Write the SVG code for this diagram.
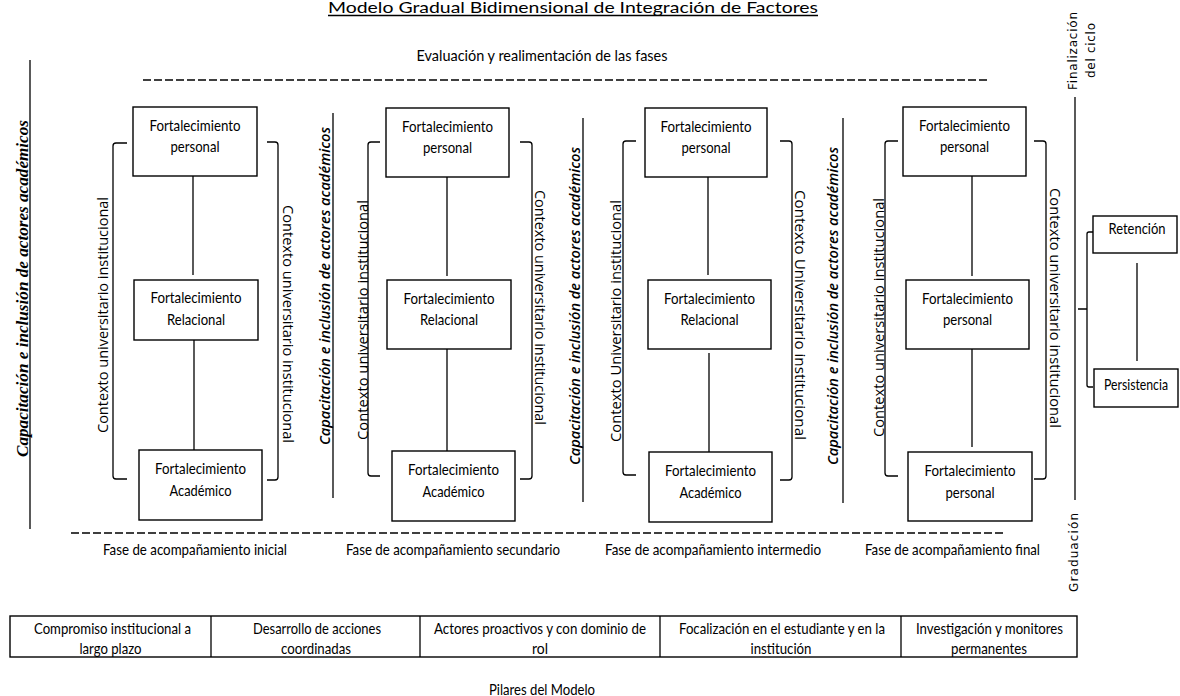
<svg xmlns="http://www.w3.org/2000/svg" width="1180" height="696" viewBox="0 0 1180 696">
<style>
text{fill:#000}
.t{font-family:Lato,"Open Sans",sans-serif;font-size:15px}
.box{fill:#fff;stroke:#000;stroke-width:1.4}
.ln{stroke:#000;stroke-width:1.3;fill:none}
.dash{stroke:#000;stroke-width:1.3;stroke-dasharray:8 3;fill:none}
.ctx{font-family:"Open Sans",sans-serif;font-size:14px}
.cap{font-family:"Open Sans",sans-serif;font-style:italic;font-weight:600;font-size:14px}
.cap1{font-family:"Liberation Serif",serif;font-style:italic;font-weight:bold;font-size:16px}
.side{font-family:"DejaVu Sans",sans-serif;font-size:12px}
.mid{text-anchor:middle;dominant-baseline:central}
</style>
<rect width="1180" height="696" fill="#fff"/>

<g id="title">
<text class="t" x="573" y="13" text-anchor="middle" font-size="14" textLength="490" lengthAdjust="spacingAndGlyphs">Modelo Gradual Bidimensional de Integración de Factores</text>
<line class="ln" x1="328" y1="15.5" x2="818" y2="15.5"/>
</g>

<g id="evaluacion">
<text class="t mid" x="542" y="55" font-size="16" textLength="251" lengthAdjust="spacingAndGlyphs">Evaluación y realimentación de las fases</text>
</g>

<g id="frame">
<line class="dash" x1="143" y1="80" x2="988" y2="80"/>
<line class="dash" x1="71" y1="533" x2="1005" y2="533"/>
<line class="ln" x1="30" y1="60" x2="30" y2="529"/>
<line class="ln" x1="333" y1="113" x2="333" y2="498"/>
<line class="ln" x1="583" y1="118" x2="583" y2="502"/>
<line class="ln" x1="843" y1="118" x2="843" y2="503"/>
<line class="ln" x1="1075" y1="97" x2="1075" y2="500"/>
</g>

<g id="capacitacion">
<text class="cap1 mid" transform="translate(22,288.5) rotate(-90)" textLength="337" lengthAdjust="spacingAndGlyphs">Capacitación e inclusión de actores académicos</text>
<text class="cap mid" transform="translate(324,286) rotate(-90)" textLength="318" lengthAdjust="spacingAndGlyphs">Capacitación e inclusión de actores académicos</text>
<text class="cap mid" transform="translate(574,306) rotate(-90)" textLength="318" lengthAdjust="spacingAndGlyphs">Capacitación e inclusión de actores académicos</text>
<text class="cap mid" transform="translate(832,306) rotate(-90)" textLength="318" lengthAdjust="spacingAndGlyphs">Capacitación e inclusión de actores académicos</text>
</g>

<g id="contexto">
<text class="ctx mid" transform="translate(102,315) rotate(-90)" textLength="236" lengthAdjust="spacingAndGlyphs">Contexto universitario institucional</text>
<text class="ctx mid" transform="translate(288,324) rotate(90)" textLength="238" lengthAdjust="spacingAndGlyphs">Contexto universitario institucional</text>
<text class="ctx mid" transform="translate(362,320) rotate(-90)" textLength="240" lengthAdjust="spacingAndGlyphs">Contexto universitario institucional</text>
<text class="ctx mid" transform="translate(540,307.5) rotate(90)" textLength="235" lengthAdjust="spacingAndGlyphs">Contexto universitario institucional</text>
<text class="ctx mid" transform="translate(615,321) rotate(-90)" textLength="242" lengthAdjust="spacingAndGlyphs">Contexto Universitario institucional</text>
<text class="ctx mid" transform="translate(800,315) rotate(90)" textLength="250" lengthAdjust="spacingAndGlyphs">Contexto Universitario institucional</text>
<text class="ctx mid" transform="translate(878,317.5) rotate(-90)" textLength="239" lengthAdjust="spacingAndGlyphs">Contexto universitario institucional</text>
<text class="ctx mid" transform="translate(1055,308) rotate(90)" textLength="240" lengthAdjust="spacingAndGlyphs">Contexto universitario institucional</text>
</g>

<g id="brackets">
<path class="ln" d="M127,143 H116 Q113,143 113,146 V476 Q113,479 116,479 H127"/>
<path class="ln" d="M267,142 H275 Q278,142 278,145 V477 Q278,480 275,480 H267"/>
<path class="ln" d="M380,142 H371 Q368,142 368,145 V473 Q368,476 371,476 H380"/>
<path class="ln" d="M520,142 H529 Q532,142 532,145 V476 Q532,479 529,479 H520"/>
<path class="ln" d="M636,141 H626 Q623,141 623,144 V472 Q623,475 626,475 H636"/>
<path class="ln" d="M780,141 H789 Q792,141 792,144 V477 Q792,480 789,480 H780"/>
<path class="ln" d="M898,141 H888 Q885,141 885,144 V473 Q885,476 888,476 H898"/>
<path class="ln" d="M1034,141 H1043 Q1046,141 1046,144 V476 Q1046,479 1043,479 H1034"/>
<path class="ln" d="M1093,232 H1089 Q1087,232 1087,234 V385 Q1087,387 1089,387 H1093 M1087,309 H1078"/>
</g>

<g id="connectors">
<line class="ln" x1="193" y1="176" x2="193" y2="275"/>
<line class="ln" x1="194" y1="340" x2="194" y2="450"/>
<line class="ln" x1="447" y1="177" x2="447" y2="276"/>
<line class="ln" x1="447" y1="349" x2="447" y2="451"/>
<line class="ln" x1="708" y1="177" x2="708" y2="275"/>
<line class="ln" x1="709" y1="353" x2="709" y2="452"/>
<line class="ln" x1="972" y1="176" x2="972" y2="276"/>
<line class="ln" x1="972" y1="349" x2="972" y2="447"/>
<line class="ln" x1="1137" y1="263" x2="1137" y2="361"/>
</g>

<g id="c1-personal"><rect class="box" x="133" y="107" width="124" height="69"/>
<text class="t mid" x="195" y="125" textLength="91" lengthAdjust="spacingAndGlyphs">Fortalecimiento</text>
<text class="t mid" x="195" y="146" textLength="49" lengthAdjust="spacingAndGlyphs">personal</text></g>
<g id="c1-relacional"><rect class="box" x="134" y="280" width="124" height="60"/>
<text class="t mid" x="196" y="297" textLength="91" lengthAdjust="spacingAndGlyphs">Fortalecimiento</text>
<text class="t mid" x="196" y="319" textLength="58" lengthAdjust="spacingAndGlyphs">Relacional</text></g>
<g id="c1-academico"><rect class="box" x="139" y="450" width="123" height="70"/>
<text class="t mid" x="200.5" y="468" textLength="91" lengthAdjust="spacingAndGlyphs">Fortalecimiento</text>
<text class="t mid" x="200.5" y="490" textLength="62" lengthAdjust="spacingAndGlyphs">Académico</text></g>

<g id="c2-personal"><rect class="box" x="386" y="108" width="123" height="69"/>
<text class="t mid" x="447.5" y="126" textLength="91" lengthAdjust="spacingAndGlyphs">Fortalecimiento</text>
<text class="t mid" x="447.5" y="147" textLength="49" lengthAdjust="spacingAndGlyphs">personal</text></g>
<g id="c2-relacional"><rect class="box" x="387" y="280" width="124" height="69"/>
<text class="t mid" x="449" y="298" textLength="91" lengthAdjust="spacingAndGlyphs">Fortalecimiento</text>
<text class="t mid" x="449" y="319" textLength="58" lengthAdjust="spacingAndGlyphs">Relacional</text></g>
<g id="c2-academico"><rect class="box" x="392" y="451" width="123" height="70"/>
<text class="t mid" x="453.5" y="469" textLength="91" lengthAdjust="spacingAndGlyphs">Fortalecimiento</text>
<text class="t mid" x="453.5" y="491" textLength="62" lengthAdjust="spacingAndGlyphs">Académico</text></g>

<g id="c3-personal"><rect class="box" x="645" y="108" width="122" height="69"/>
<text class="t mid" x="706" y="126" textLength="91" lengthAdjust="spacingAndGlyphs">Fortalecimiento</text>
<text class="t mid" x="706" y="147" textLength="49" lengthAdjust="spacingAndGlyphs">personal</text></g>
<g id="c3-relacional"><rect class="box" x="648" y="280" width="123" height="69"/>
<text class="t mid" x="709.5" y="298" textLength="91" lengthAdjust="spacingAndGlyphs">Fortalecimiento</text>
<text class="t mid" x="709.5" y="319" textLength="58" lengthAdjust="spacingAndGlyphs">Relacional</text></g>
<g id="c3-academico"><rect class="box" x="649" y="452" width="123" height="70"/>
<text class="t mid" x="710.5" y="470" textLength="91" lengthAdjust="spacingAndGlyphs">Fortalecimiento</text>
<text class="t mid" x="710.5" y="492" textLength="62" lengthAdjust="spacingAndGlyphs">Académico</text></g>

<g id="c4-personal-1"><rect class="box" x="903" y="107" width="123" height="69"/>
<text class="t mid" x="964.5" y="125" textLength="91" lengthAdjust="spacingAndGlyphs">Fortalecimiento</text>
<text class="t mid" x="964.5" y="146" textLength="49" lengthAdjust="spacingAndGlyphs">personal</text></g>
<g id="c4-personal-2"><rect class="box" x="906" y="280" width="123" height="69"/>
<text class="t mid" x="967.5" y="298" textLength="91" lengthAdjust="spacingAndGlyphs">Fortalecimiento</text>
<text class="t mid" x="967.5" y="319" textLength="49" lengthAdjust="spacingAndGlyphs">personal</text></g>
<g id="c4-personal-3"><rect class="box" x="908" y="452" width="124" height="69"/>
<text class="t mid" x="970" y="470" textLength="91" lengthAdjust="spacingAndGlyphs">Fortalecimiento</text>
<text class="t mid" x="970" y="492" textLength="49" lengthAdjust="spacingAndGlyphs">personal</text></g>

<g id="retencion"><rect class="box" x="1093" y="216" width="84" height="37"/>
<text class="t mid" x="1137" y="228" textLength="57" lengthAdjust="spacingAndGlyphs">Retención</text></g>
<g id="persistencia"><rect class="box" x="1094" y="369" width="84" height="38"/>
<text class="t mid" x="1136" y="384" font-size="14" textLength="64" lengthAdjust="spacingAndGlyphs">Persistencia</text></g>

<g id="ciclo">
<text class="side mid" transform="translate(1073,51) rotate(-90)" textLength="78" lengthAdjust="spacing">Finalización</text>
<text class="side mid" transform="translate(1091,50.5) rotate(-90)" textLength="55" lengthAdjust="spacing">del ciclo</text>
<text class="side mid" transform="translate(1074,552.5) rotate(-90)" textLength="79" lengthAdjust="spacing">Graduación</text>
</g>

<g id="fases">
<text class="t mid" x="195" y="549" textLength="184" lengthAdjust="spacingAndGlyphs">Fase de acompañamiento inicial</text>
<text class="t mid" x="453" y="549" textLength="214" lengthAdjust="spacingAndGlyphs">Fase de acompañamiento secundario</text>
<text class="t mid" x="713" y="549" textLength="216" lengthAdjust="spacingAndGlyphs">Fase de acompañamiento intermedio</text>
<text class="t mid" x="952.5" y="549" textLength="175" lengthAdjust="spacingAndGlyphs">Fase de acompañamiento final</text>
</g>

<g id="pilares">
<rect class="box" x="10" y="616" width="1067" height="41"/>
<line class="ln" x1="211" y1="616" x2="211" y2="657"/>
<line class="ln" x1="420" y1="616" x2="420" y2="657"/>
<line class="ln" x1="660" y1="616" x2="660" y2="657"/>
<line class="ln" x1="901" y1="616" x2="901" y2="657"/>
<text class="t mid" x="112.5" y="628" textLength="157" lengthAdjust="spacingAndGlyphs">Compromiso institucional a</text>
<text class="t mid" x="110.5" y="648" textLength="62" lengthAdjust="spacingAndGlyphs">largo plazo</text>
<text class="t mid" x="317" y="628" textLength="128" lengthAdjust="spacingAndGlyphs">Desarrollo de acciones</text>
<text class="t mid" x="316" y="648" textLength="70" lengthAdjust="spacingAndGlyphs">coordinadas</text>
<text class="t mid" x="540" y="628" textLength="212" lengthAdjust="spacingAndGlyphs">Actores proactivos y con dominio de</text>
<text class="t mid" x="540" y="648" textLength="16" lengthAdjust="spacingAndGlyphs">rol</text>
<text class="t mid" x="782" y="628" textLength="206" lengthAdjust="spacingAndGlyphs">Focalización en el estudiante y en la</text>
<text class="t mid" x="781" y="648" textLength="61" lengthAdjust="spacingAndGlyphs">institución</text>
<text class="t mid" x="989.5" y="628" textLength="147" lengthAdjust="spacingAndGlyphs">Investigación y monitores</text>
<text class="t mid" x="989" y="648" textLength="76" lengthAdjust="spacingAndGlyphs">permanentes</text>
<text class="t mid" x="542" y="689" textLength="106" lengthAdjust="spacingAndGlyphs">Pilares del Modelo</text>
</g>
</svg>
